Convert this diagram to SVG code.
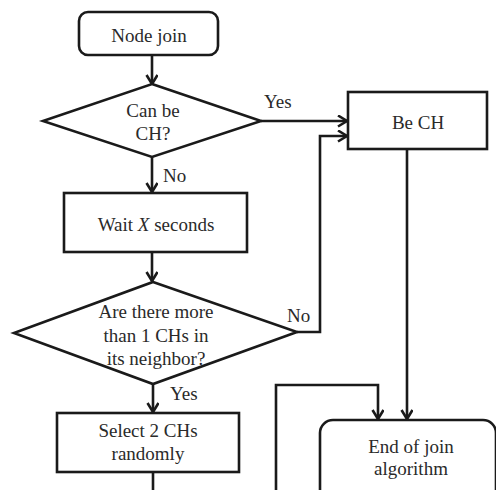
<svg xmlns="http://www.w3.org/2000/svg" width="496" height="490" viewBox="0 0 496 490">
<style>
.shape{fill:#fff;stroke:#1a1a1a;stroke-width:2.6}
.conn{fill:none;stroke:#1a1a1a;stroke-width:2.6}
.t{fill:#2a2a2a;text-anchor:middle}
.lbl{fill:#2a2a2a;text-anchor:start}
</style>
<defs>
<marker id="arr" markerUnits="userSpaceOnUse" markerWidth="14" markerHeight="14" refX="10" refY="6" orient="auto">
<path d="M1,0.5 L10,6 L1,11.5" fill="none" stroke="#1a1a1a" stroke-width="2.6"/>
</marker>
</defs>
<rect width="496" height="490" fill="#fff"/>
<g id="connectors">
<line class="conn" x1="152" y1="55" x2="152" y2="84" marker-end="url(#arr)"/>
<line class="conn" x1="261" y1="121" x2="347" y2="121" marker-end="url(#arr)"/>
<line class="conn" x1="152" y1="157" x2="152" y2="192" marker-end="url(#arr)"/>
<line class="conn" x1="152" y1="252" x2="152" y2="281" marker-end="url(#arr)"/>
<polyline class="conn" points="297,332 320,332 320,136 347,136" marker-end="url(#arr)"/>
<line class="conn" x1="153" y1="384" x2="153" y2="412" marker-end="url(#arr)"/>
<line class="conn" x1="153" y1="472" x2="153" y2="492"/>
<line class="conn" x1="407" y1="149" x2="407" y2="419" marker-end="url(#arr)"/>
<polyline class="conn" points="276,492 276,385 378,385 378,419" marker-end="url(#arr)"/>
<text class="lbl" font-family="Liberation Serif" font-size="19" x="264" y="108">Yes</text>
<text class="lbl" font-family="Liberation Serif" font-size="19" x="163" y="182">No</text>
<text class="lbl" font-family="Liberation Serif" font-size="19" x="287" y="322">No</text>
<text class="lbl" font-family="Liberation Serif" font-size="19" x="170" y="400">Yes</text>
</g>
<g id="node-join">
<rect class="shape" x="79" y="12" width="139" height="43" rx="9"/>
<text class="t" font-family="Liberation Serif" font-size="19" x="149" y="41.5">Node join</text>
</g>
<g id="can-be-ch">
<polygon class="shape" points="152,84 261,121 152,157 43,121"/>
<text class="t" font-family="Liberation Serif" font-size="19" x="153" y="117">Can be</text>
<text class="t" font-family="Liberation Serif" font-size="19" x="153" y="140">CH?</text>
</g>
<g id="be-ch">
<rect class="shape" x="348" y="92" width="139" height="57"/>
<text class="t" font-family="Liberation Serif" font-size="19" x="418" y="129">Be CH</text>
</g>
<g id="wait">
<rect class="shape" x="64" y="193" width="183" height="59"/>
<text class="t" font-family="Liberation Serif" font-size="19" x="156" y="231">Wait <tspan font-style="italic">X</tspan> seconds</text>
</g>
<g id="more-than-one">
<polygon class="shape" points="153,282 297,332 153,384 14,333"/>
<text class="t" font-family="Liberation Serif" font-size="19" x="156" y="318">Are there more</text>
<text class="t" font-family="Liberation Serif" font-size="19" x="156" y="342">than 1 CHs in</text>
<text class="t" font-family="Liberation Serif" font-size="19" x="156" y="365">its neighbor?</text>
</g>
<g id="select">
<rect class="shape" x="57" y="413" width="182" height="59"/>
<text class="t" font-family="Liberation Serif" font-size="19" x="148" y="437">Select 2 CHs</text>
<text class="t" font-family="Liberation Serif" font-size="19" x="148" y="460">randomly</text>
</g>
<g id="end">
<rect class="shape" x="320" y="420" width="176" height="100" rx="13"/>
<text class="t" font-family="Liberation Serif" font-size="19" x="411" y="453">End of join</text>
<text class="t" font-family="Liberation Serif" font-size="19" x="411" y="475">algorithm</text>
</g>
</svg>
